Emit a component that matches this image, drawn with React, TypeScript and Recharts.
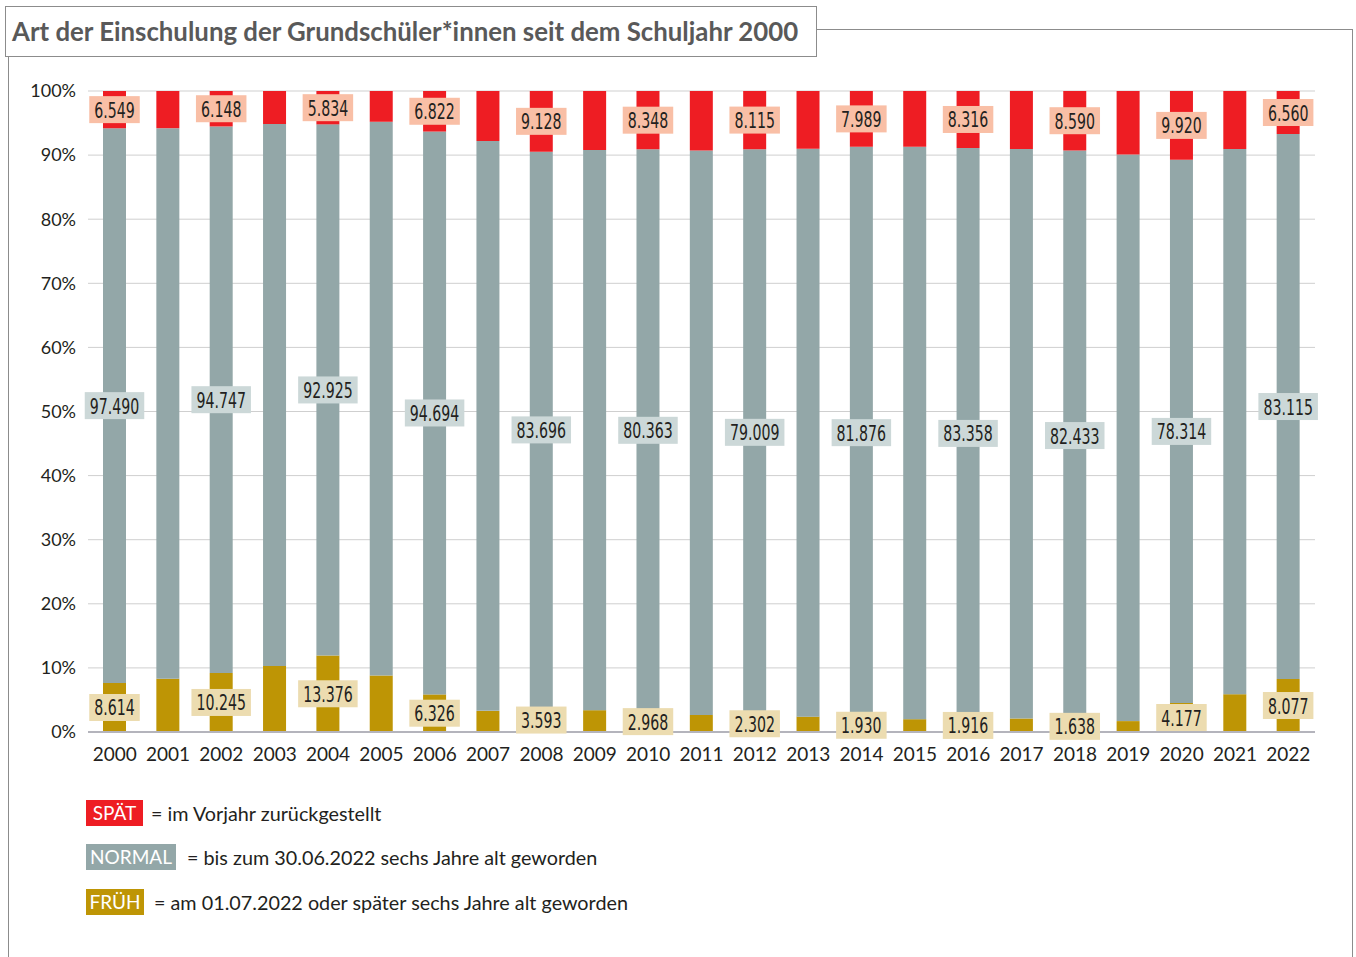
import React from "react";
import { BarChart, Bar, XAxis, YAxis, CartesianGrid, LabelList } from "recharts";

const years = [
  "2000", "2001", "2002", "2003", "2004", "2005", "2006", "2007", "2008", "2009", "2010", "2011",
  "2012", "2013", "2014", "2015", "2016", "2017", "2018", "2019", "2020", "2021", "2022",
];
// Werte der ungeraden Jahre sind im Original nicht beschriftet -> aus den Balkenhöhen geschätzt
const spaet = [
  6549, 6470, 6148, 5770, 5834, 5280, 6822, 7880, 9128, 8650, 8348, 8320,
  8115, 8150, 7989, 8050, 8316, 8420, 8590, 9210, 9920, 8690, 6560,
];
const normal = [
  97490, 95775, 94747, 94690, 92925, 95040, 94694, 89790, 83696, 82150, 80363, 78810,
  79009, 80180, 81876, 82600, 83358, 82630, 82433, 82210, 78314, 81650, 83115,
];
const frueh = [
  8614, 9255, 10245, 11540, 13376, 9680, 6326, 3330, 3593, 3200, 2968, 2370,
  2302, 2170, 1930, 1850, 1916, 1950, 1638, 1580, 4177, 5660, 8077,
];
const labelledYears = [
  "2000", "2002", "2004", "2006", "2008", "2010", "2012", "2014", "2016", "2018", "2020", "2022",
];
const yTicks = [0, 0.1, 0.2, 0.3, 0.4, 0.5, 0.6, 0.7, 0.8, 0.9, 1];

const data = years.map((y, i) => ({ year: y, frueh: frueh[i], normal: normal[i], spaet: spaet[i] }));

const RED = "#ee1d23";
const GREY = "#93a7a8";
const GOLD = "#be9505";
const SANS = "Lato, 'Open Sans', sans-serif";
const NARROW = "'DejaVu Sans Condensed', 'Liberation Sans Narrow', sans-serif";

const fmt = (v: number) => {
  const k = Math.floor(v / 1000);
  const r = String(v % 1000).padStart(3, "0");
  return `${k}.${r}`;
};

function makeLabel(values: number[], bg: string) {
  return (props: any) => {
    const { x, y, width, height, index } = props;
    if (index == null || !labelledYears.includes(years[index])) return null;
    const txt = fmt(values[index]);
    const textW = (txt.length - 1) * 9 + 4.5;
    const w = textW + 10;
    const cx = Number(x) + Number(width) / 2;
    const cy = Number(y) + Number(height) / 2;
    return (
      <g>
        <rect x={cx - w / 2} y={cy - 13.5} width={w} height={27} fill={bg} />
        <text x={cx} y={cy + 1} textAnchor="middle" dominantBaseline="central"
          fontFamily={NARROW} fontSize={21} fill="#231f20"
          textLength={textW} lengthAdjust="spacingAndGlyphs">
          {txt}
        </text>
      </g>
    );
  };
}

function LegendRow({ top, label, bg, boxW, textLeft, text }: any) {
  return (
    <>
      <div style={{
        position: "absolute", left: 86, top, width: boxW, height: 26, background: bg,
        color: "#fff", fontFamily: SANS, fontSize: 19, lineHeight: "26px", textAlign: "center",
      }}>{label}</div>
      <div style={{
        position: "absolute", left: textLeft, top, height: 26, lineHeight: "26px",
        fontFamily: SANS, fontSize: 19.8, color: "#231f20", whiteSpace: "nowrap",
      }}>{text}</div>
    </>
  );
}

export default function App() {
  return (
    <div style={{ position: "absolute", left: 0, top: 0, width: 1356, height: 957, overflow: "hidden", background: "#fff" }}>
      <div style={{ position: "absolute", left: 8, top: 29, width: 1343, height: 1000, border: "1.5px solid #8c8c8c" }} />
      <div style={{
        position: "absolute", left: 5, top: 6, width: 812, height: 51, border: "1.5px solid #8c8c8c",
        background: "#fff", boxSizing: "border-box",
      }}>
        <div style={{
          position: "absolute", left: 6, top: 9, fontFamily: SANS, fontWeight: 700, fontSize: 25.8,
          color: "#595959", whiteSpace: "nowrap",
        }}>
          Art der Einschulung der Grundschüler*innen seit dem Schuljahr 2000
        </div>
      </div>

      <div style={{ position: "absolute", left: 0, top: 0 }}>
        <BarChart width={1356} height={780} data={data} stackOffset="expand"
          margin={{ top: 91, right: 41, left: 0, bottom: 8 }}>
          <CartesianGrid vertical={false} stroke="#cfcfcf" strokeWidth={1} />
          <XAxis dataKey="year" tickLine={false} axisLine={{ stroke: "#b4b4bc", strokeWidth: 2 }}
            height={40} tickMargin={10} interval={0}
            tick={{ fontFamily: SANS, fontSize: 19, fill: "#231f20" }} />
          <YAxis width={88} domain={[0, 1]} ticks={yTicks} tickLine={false} axisLine={false}
            tickMargin={6} tickFormatter={(v: number) => `${Math.round(v * 100)}%`}
            tick={{ fontFamily: SANS, fontSize: 18, fill: "#231f20" }} />
          <Bar dataKey="frueh" stackId="a" fill={GOLD} barSize={23} isAnimationActive={false}>
            <LabelList dataKey="frueh" content={makeLabel(frueh, "#ecdcb0")} />
          </Bar>
          <Bar dataKey="normal" stackId="a" fill={GREY} barSize={23} isAnimationActive={false}>
            <LabelList dataKey="normal" content={makeLabel(normal, "#ccd8d8")} />
          </Bar>
          <Bar dataKey="spaet" stackId="a" fill={RED} barSize={23} isAnimationActive={false}>
            <LabelList dataKey="spaet" content={makeLabel(spaet, "#f9bfa6")} />
          </Bar>
        </BarChart>
      </div>

      <LegendRow top={800} label="SPÄT" bg={RED} boxW={57} textLeft={151} text="= im Vorjahr zurückgestellt" />
      <LegendRow top={844} label="NORMAL" bg={GREY} boxW={90} textLeft={187} text="= bis zum 30.06.2022 sechs Jahre alt geworden" />
      <LegendRow top={889} label="FRÜH" bg={GOLD} boxW={58} textLeft={154} text="= am 01.07.2022 oder später sechs Jahre alt geworden" />
    </div>
  );
}
